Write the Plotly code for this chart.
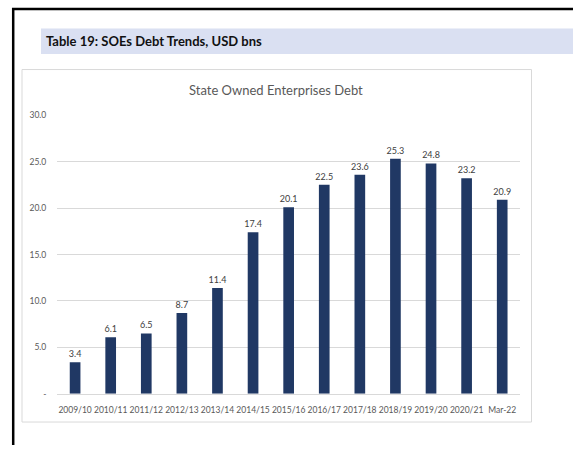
import plotly.graph_objects as go

# Fiscal periods and SOE debt (USD bn)
periods = ["2009/10", "2010/11", "2011/12", "2012/13", "2013/14", "2014/15",
           "2015/16", "2016/17", "2017/18", "2018/19", "2019/20", "2020/21", "Mar-22"]
debt = [3.4, 6.1, 6.5, 8.7, 11.4, 17.4, 20.1, 22.5, 23.6, 25.3, 24.8, 23.2, 20.9]

y_ticks = [0, 5, 10, 15, 20, 25, 30]
y_tick_text = ["-", "5.0", "10.0", "15.0", "20.0", "25.0", "30.0"]

W, H = 573, 450
FONT = "Lato, Calibri, 'Open Sans', sans-serif"
BAR = "#203864"
GRID = "#D9D9D9"
LABEL = "#595959"


def fx(px):
    return px / W


def fy(py):
    return 1 - py / H


fig = go.Figure(
    go.Bar(
        x=periods,
        y=debt,
        width=0.3,
        marker=dict(color=BAR, line=dict(width=0)),
        text=[f"{v:.1f}" for v in debt],
        textposition="outside",
        constraintext="none",
        textfont=dict(size=9, color="#404040", family=FONT),
        cliponaxis=False,
    )
)

shapes = [
    # page frame: top and left rules
    dict(type="line", xref="paper", yref="paper", x0=fx(12), x1=fx(573),
         y0=fy(4), y1=fy(4), line=dict(color="black", width=2.5)),
    dict(type="line", xref="paper", yref="paper", x0=fx(13.2), x1=fx(13.2),
         y0=fy(3), y1=fy(450), line=dict(color="black", width=2.5)),
    # caption band
    dict(type="rect", xref="paper", yref="paper", x0=fx(41), x1=fx(573),
         y0=fy(24), y1=fy(50), fillcolor="#DAE0F2", line=dict(width=0), layer="below"),
    # chart frame
    dict(type="rect", xref="paper", yref="paper", x0=fx(22), x1=fx(531.5),
         y0=fy(66), y1=fy(426.5), fillcolor="rgba(0,0,0,0)",
         line=dict(color=GRID, width=1), layer="below"),
]

annotations = [
    dict(text="<b>Table 19: SOEs Debt Trends, USD bns</b>", xref="paper", yref="paper",
         x=fx(44), y=fy(37), xanchor="left", yanchor="middle", showarrow=False,
         font=dict(size=13, color="#111111", family=FONT)),
    dict(text="State Owned Enterprises Debt", xref="paper", yref="paper",
         x=fx(276), y=fy(87), xanchor="center", yanchor="middle", showarrow=False,
         font=dict(size=13, color=LABEL, family=FONT)),
]

fig.update_layout(
    width=W,
    height=H,
    margin=dict(l=0, r=0, t=0, b=0),
    paper_bgcolor="white",
    plot_bgcolor="white",
    showlegend=False,
    shapes=shapes,
    annotations=annotations,
    bargap=0.7,
    xaxis=dict(
        domain=[fx(57.3), fx(520)],
        showgrid=False,
        showline=True,
        linecolor=GRID,
        linewidth=1,
        ticks="",
        tickangle=0,
        tickfont=dict(size=8.5, color=LABEL, family=FONT),
        ticklabelstandoff=8,
        fixedrange=True,
    ),
    yaxis=dict(
        domain=[fy(397.7), fy(112.7)],
        range=[0, 30],
        tickvals=y_ticks,
        ticktext=y_tick_text,
        showgrid=True,
        gridcolor=GRID,
        gridwidth=1,
        zeroline=False,
        showline=False,
        ticks="",
        tickfont=dict(size=8.5, color=LABEL, family=FONT),
        ticklabelstandoff=10,
        fixedrange=True,
    ),
)

fig.write_html("out.html")
